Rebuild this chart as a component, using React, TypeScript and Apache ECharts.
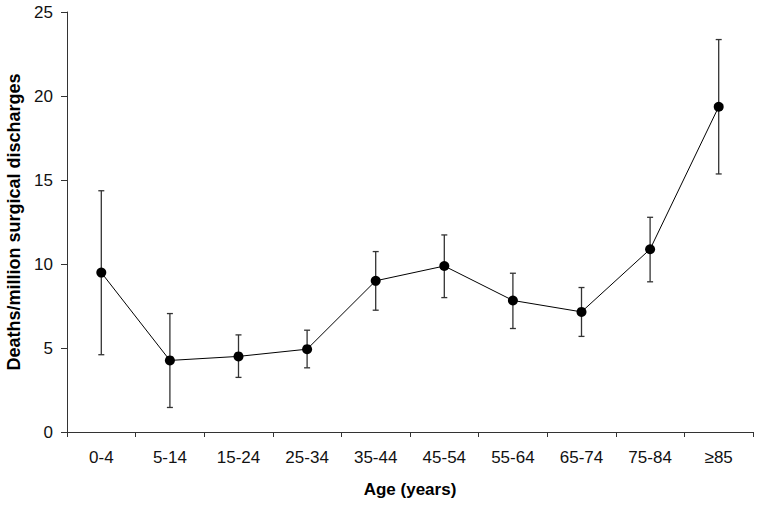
import React, { useEffect, useRef } from "react";
import * as echarts from "echarts";

const categories = ["0-4", "5-14", "15-24", "25-34", "35-44", "45-54", "55-64", "65-74", "75-84", "≥85"];
const rates = [9.49, 4.26, 4.5, 4.93, 9.0, 9.88, 7.83, 7.15, 10.88, 19.36];
const upper = [14.36, 7.05, 5.78, 6.06, 10.74, 11.73, 9.45, 8.6, 12.78, 23.36];
const lower = [4.6, 1.46, 3.25, 3.82, 7.25, 8.0, 6.16, 5.69, 8.94, 15.36];

const FONT = "'Liberation Sans', Arial, Helvetica, sans-serif";

export default function App() {
  const ref = useRef<HTMLDivElement>(null);
  useEffect(() => {
    if (!ref.current) return;
    const chart = echarts.init(ref.current, undefined, { renderer: "svg" });
    const errData = categories.map((c, i) => [i, lower[i], upper[i]]);
    chart.setOption({
      animation: false,
      backgroundColor: "#fff",
      grid: { left: 67, right: 5, top: 12, bottom: 73, containLabel: false, outerBoundsMode: "none" },
      xAxis: {
        type: "category",
        data: categories,
        boundaryGap: true,
        name: "Age (years)",
        nameLocation: "middle",
        nameGap: 49,
        nameTextStyle: { fontFamily: FONT, fontSize: 17, fontWeight: "bold", color: "#000" },
        axisLine: { lineStyle: { color: "#333", width: 1 } },
        axisTick: { show: true, alignWithLabel: false, length: 5, lineStyle: { color: "#333" } },
        axisLabel: { fontFamily: FONT, fontSize: 17, color: "#111", margin: 17 },
        splitLine: { show: false },
      },
      yAxis: {
        type: "value",
        min: 0,
        max: 25,
        interval: 5,
        name: "Deaths/million surgical discharges",
        nameLocation: "middle",
        nameGap: 43,
        nameTextStyle: { fontFamily: FONT, fontSize: 18, fontWeight: "bold", color: "#000" },
        axisLine: { show: true, lineStyle: { color: "#333", width: 1 } },
        axisTick: { show: true, length: 6, lineStyle: { color: "#333" } },
        axisLabel: { fontFamily: FONT, fontSize: 17, color: "#111", margin: 14 },
        splitLine: { show: false },
      },
      series: [
        {
          type: "custom",
          data: errData,
          z: 1,
          renderItem: (params: any, api: any) => {
            const x = api.value(0);
            const lo = api.coord([x, api.value(1)]);
            const hi = api.coord([x, api.value(2)]);
            const hw = 3;
            const style = { stroke: "#333", lineWidth: 1.3 };
            return {
              type: "group",
              children: [
                { type: "line", shape: { x1: lo[0], y1: lo[1], x2: hi[0], y2: hi[1] }, style },
                { type: "line", shape: { x1: hi[0] - hw, y1: hi[1], x2: hi[0] + hw, y2: hi[1] }, style },
                { type: "line", shape: { x1: lo[0] - hw, y1: lo[1], x2: lo[0] + hw, y2: lo[1] }, style },
              ],
            };
          },
        },
        {
          type: "line",
          data: rates,
          z: 2,
          symbol: "circle",
          symbolSize: 10,
          itemStyle: { color: "#000" },
          lineStyle: { color: "#000", width: 1 },
        },
      ],
    });
    return () => chart.dispose();
  }, []);
  return <div ref={ref} style={{ width: 758, height: 505, position: "absolute", left: 0, top: 0 }} />;
}
